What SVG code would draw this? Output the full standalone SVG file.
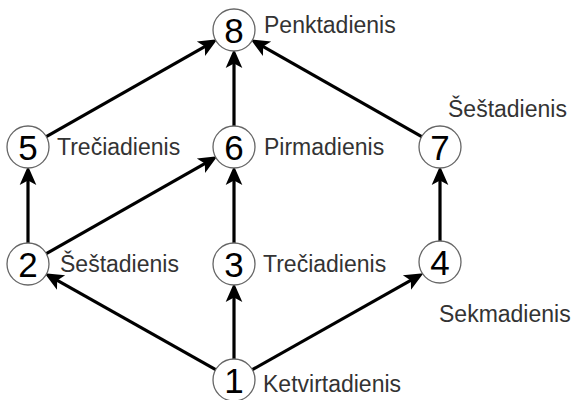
<svg xmlns="http://www.w3.org/2000/svg" width="572" height="400" viewBox="0 0 572 400">
<style>
.n{fill:#fff;stroke:#666;stroke-width:1.3}
.d{font-family:"Liberation Sans",Arial,sans-serif;font-size:35px;fill:#000;text-anchor:middle}
.l{font-family:"Liberation Sans",Arial,sans-serif;font-size:23px;fill:#333}
.e{stroke:#000;stroke-width:3.2;fill:none;marker-end:url(#a)}
</style>
<defs>
<marker id="a" markerUnits="userSpaceOnUse" markerWidth="20" markerHeight="20" viewBox="0 -8 18 16" refX="8" refY="0" orient="auto">
<path d="M0,-7.5 L17,0 L0,7.5 L4,0 z" fill="#000"/>
</marker>
</defs>
<rect width="572" height="400" fill="#fff"/>
<g id="edges">
<line class="e" x1="215.7" y1="369.7" x2="53.3" y2="278.2"/>
<line class="e" x1="234" y1="359" x2="234" y2="293"/>
<line class="e" x1="252.3" y1="369.7" x2="414.7" y2="278.2"/>
<line class="e" x1="28" y1="243" x2="28" y2="176"/>
<line class="e" x1="46.3" y1="253.6" x2="208.7" y2="161.3"/>
<line class="e" x1="234" y1="243" x2="234" y2="176"/>
<line class="e" x1="440" y1="243" x2="440" y2="176"/>
<line class="e" x1="46.3" y1="136.6" x2="208.7" y2="44.3"/>
<line class="e" x1="234" y1="126" x2="234" y2="59"/>
<line class="e" x1="421.7" y1="136.6" x2="259.3" y2="44.3"/>
</g>
<g id="n8"><circle class="n" cx="234" cy="30" r="21"/><text class="d" x="234" y="43">8</text><text class="l" x="264" y="33">Penktadienis</text></g>
<g id="n5"><circle class="n" cx="28" cy="147" r="21"/><text class="d" x="28" y="160">5</text><text class="l" x="57" y="155">Trečiadienis</text></g>
<g id="n6"><circle class="n" cx="234" cy="147" r="21"/><text class="d" x="234" y="160">6</text><text class="l" x="264" y="155">Pirmadienis</text></g>
<g id="n7"><circle class="n" cx="440" cy="147" r="21"/><text class="d" x="440" y="160">7</text><text class="l" x="448" y="117">Šeštadienis</text></g>
<g id="n2"><circle class="n" cx="28" cy="264" r="21"/><text class="d" x="28" y="277">2</text><text class="l" x="60" y="272">Šeštadienis</text></g>
<g id="n3"><circle class="n" cx="234" cy="264" r="21"/><text class="d" x="234" y="277">3</text><text class="l" x="263" y="272">Trečiadienis</text></g>
<g id="n4"><circle class="n" cx="440" cy="262" r="21"/><text class="d" x="440" y="275">4</text><text class="l" x="439" y="322">Sekmadienis</text></g>
<g id="n1"><circle class="n" cx="234" cy="380" r="21"/><text class="d" x="234" y="393">1</text><text class="l" x="263" y="392">Ketvirtadienis</text></g>
</svg>
